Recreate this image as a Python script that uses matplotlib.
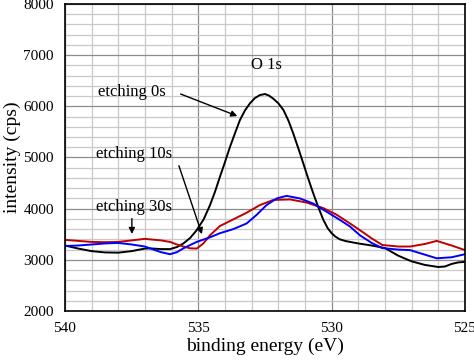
import numpy as np
import matplotlib.pyplot as plt
from matplotlib.ticker import MultipleLocator

plt.rcParams['font.family'] = ['Liberation Serif', 'DejaVu Serif']

# binding energy (eV) and intensity (cps)
e_0s = [540.0, 539.5, 539.0, 538.5, 538.0, 537.5, 537.0, 536.81, 536.4, 536.06,
        535.8, 535.56, 535.3, 535.06, 534.8, 534.56, 534.38, 534.19, 534.0, 533.81,
        533.62, 533.44, 533.25, 533.06, 532.88, 532.69, 532.5, 532.35, 532.19, 532.0,
        531.81, 531.62, 531.44, 531.25, 531.06, 530.88, 530.69, 530.5, 530.31, 530.15,
        530.0, 529.85, 529.69, 529.5, 529.31, 529.0, 528.5, 528.0, 527.5, 527.0,
        526.5, 526.0, 525.75, 525.5, 525.25, 525.0]
i_0s = [3280, 3220, 3170, 3145, 3140, 3170, 3220, 3224, 3210, 3210,
        3250, 3320, 3430, 3580, 3790, 4070, 4320, 4620, 4910, 5210,
        5480, 5730, 5920, 6060, 6160, 6220, 6240, 6210, 6150, 6060,
        5930, 5720, 5470, 5180, 4880, 4590, 4300, 4030, 3780, 3620,
        3520, 3450, 3400, 3370, 3350, 3320, 3280, 3230, 3080, 2970,
        2900, 2860, 2870, 2920, 2950, 2960]

e_10s = [540.0, 539.5, 539.0, 538.5, 538.0, 537.5, 537.0, 536.81, 536.4, 536.06,
         535.8, 535.56, 535.3, 535.06, 534.56, 534.19, 533.69, 533.19, 532.81, 532.44,
         532.06, 531.69, 531.19, 530.69, 530.19, 529.69, 529.31, 528.94, 528.5, 528.1,
         527.5, 527.06, 526.5, 526.06, 525.5, 525.0]
i_10s = [3270, 3280, 3300, 3320, 3330, 3300, 3260, 3224, 3150, 3110,
         3150, 3224, 3290, 3350, 3440, 3520, 3600, 3710, 3880, 4070,
         4200, 4250, 4200, 4100, 3940, 3780, 3650, 3480, 3330, 3230,
         3200, 3190, 3100, 3030, 3050, 3110]

e_30s = [540.0, 539.5, 539.0, 538.5, 538.0, 537.5, 537.0, 536.81, 536.4, 536.06,
         535.8, 535.56, 535.3, 535.06, 534.81, 534.56, 534.19, 533.69, 533.19, 532.69,
         532.19, 531.56, 530.94, 530.31, 529.81, 529.31, 528.94, 528.5, 528.1, 527.5,
         527.06, 526.5, 526.06, 525.5, 525.0]
i_30s = [3390, 3370, 3350, 3345, 3350, 3380, 3410, 3400, 3380, 3350,
         3300, 3260, 3225, 3220, 3320, 3480, 3660, 3790, 3920, 4070,
         4170, 4180, 4120, 4010, 3880, 3710, 3580, 3420, 3290, 3260,
         3260, 3310, 3370, 3280, 3190]

fig = plt.figure(figsize=(4.74, 3.61), dpi=100)
ax = fig.add_axes([0.137, 0.1385, 0.844, 0.8505])

ax.plot(e_0s, i_0s, color='black', lw=1.4)
ax.plot(e_30s, i_30s, color='#c00000', lw=1.4)
ax.plot(e_10s, i_10s, color='#0000ff', lw=1.4)

ax.set_xlim(540, 525)
ax.set_ylim(2000, 8000)
ax.xaxis.set_major_locator(MultipleLocator(5))
ax.xaxis.set_minor_locator(MultipleLocator(1))
ax.yaxis.set_major_locator(MultipleLocator(1000))
ax.yaxis.set_minor_locator(MultipleLocator(200))
ax.grid(True, which='minor', color='#c8c8c8', lw=0.9)
ax.grid(True, which='major', color='#8c8c8c', lw=0.9)
ax.set_axisbelow(True)
ax.tick_params(which='both', length=0, labelsize=11, pad=8)
for s in ax.spines.values():
    s.set_linewidth(1.2)

ax.set_xlabel('binding energy (eV)', fontsize=14, labelpad=2)
ax.set_ylabel('intensity (cps)', fontsize=14, labelpad=2)

ax.text(532.46, 6800, 'O 1s', fontsize=12, ha='center', va='center')
arrow = dict(arrowstyle='-|>', color='black', lw=1.0, mutation_scale=9)
ax.text(537.5, 6280, 'etching 0s', fontsize=12, ha='center', va='center')
ax.annotate('', xy=(533.44, 5790), xytext=(535.76, 6260), arrowprops=arrow)
ax.text(537.4, 5070, 'etching 10s', fontsize=12, ha='center', va='center')
ax.annotate('', xy=(534.83, 3450), xytext=(535.76, 4890), arrowprops=arrow)
ax.text(537.4, 4030, 'etching 30s', fontsize=12, ha='center', va='center')
ax.annotate('', xy=(537.49, 3450), xytext=(537.49, 3860), arrowprops=arrow)

fig.savefig('out.png', dpi=100)
